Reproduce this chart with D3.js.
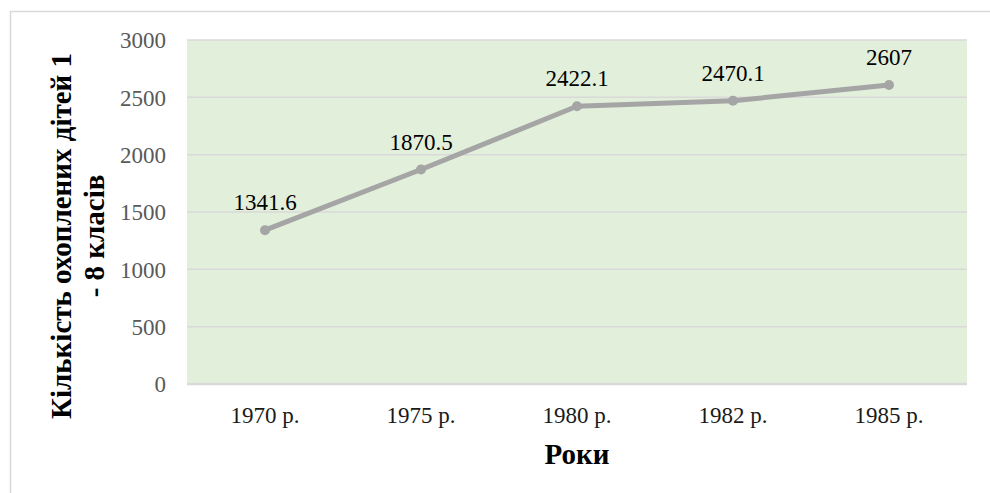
<!DOCTYPE html>
<html>
<head>
<meta charset="utf-8">
<script src="https://cdn.jsdelivr.net/npm/d3@7"></script>
<style>
  body { margin: 0; background: #fff; }
  svg { display: block; }
  svg text { font-family: "Liberation Serif", serif !important; }
</style>
</head>
<body>
<svg id="chart" width="990" height="493"></svg>
<script>
// chart data
const years = ["1970 р.", "1975 р.", "1980 р.", "1982 р.", "1985 р."];
const children = [1341.6, 1870.5, 2422.1, 2470.1, 2607];
const yTicks = [0, 500, 1000, 1500, 2000, 2500, 3000];

const svg = d3.select("#chart");

// outer frame (runs off the right and bottom edge)
svg.append("rect")
  .attr("x", 10.5).attr("y", 11.5)
  .attr("width", 1000).attr("height", 600)
  .attr("fill", "none")
  .attr("stroke", "#d9d9d9")
  .attr("stroke-width", 1.5);

const plot = { left: 187, right: 967, top: 40, bottom: 384 };

const x = d3.scaleBand()
  .domain(years)
  .range([plot.left, plot.right]);

const y = d3.scaleLinear()
  .domain([0, 3000])
  .range([plot.bottom, plot.top]);

// plot background
svg.append("rect")
  .attr("x", plot.left).attr("y", plot.top)
  .attr("width", plot.right - plot.left)
  .attr("height", plot.bottom - plot.top)
  .attr("fill", "#e2efda");

// gridlines
svg.append("g")
  .selectAll("line")
  .data(yTicks)
  .enter()
  .append("line")
  .attr("x1", plot.left).attr("x2", plot.right)
  .attr("y1", (d) => y(d)).attr("y2", (d) => y(d))
  .attr("stroke", "#d9d9d9")
  .attr("stroke-width", (d) => (d === 0 ? 2.5 : 1.5));

// y axis labels
const yAxis = d3.axisLeft(y)
  .tickValues(yTicks)
  .tickFormat(d3.format("d"))
  .tickSize(0)
  .tickPadding(0);
svg.append("g")
  .attr("transform", `translate(166,0)`)
  .call(yAxis)
  .call((g) => g.select(".domain").remove())
  .selectAll("text")
  .attr("font-size", "23px")
  .attr("fill", "#595959")
  .attr("dy", "0.34em");

// x axis labels
const xAxis = d3.axisBottom(x).tickSize(0).tickPadding(0);
svg.append("g")
  .attr("transform", `translate(0,${plot.bottom})`)
  .call(xAxis)
  .call((g) => g.select(".domain").remove())
  .selectAll("text")
  .attr("font-size", "23px")
  .attr("fill", "#1a1a1a")
  .attr("y", 39)
  .attr("dy", 0);

// the line
const line = d3.line()
  .x((d, i) => x(years[i]) + x.bandwidth() / 2)
  .y((d) => y(d));

svg.append("path")
  .datum(children)
  .attr("d", line)
  .attr("fill", "none")
  .attr("stroke", "#a5a5a5")
  .attr("stroke-width", 5)
  .attr("stroke-linejoin", "round");

svg.append("g")
  .selectAll("circle")
  .data(children)
  .enter()
  .append("circle")
  .attr("cx", (d, i) => x(years[i]) + x.bandwidth() / 2)
  .attr("cy", (d) => y(d))
  .attr("r", 5)
  .attr("fill", "#a5a5a5");

// data labels
svg.append("g")
  .selectAll("text")
  .data(children)
  .enter()
  .append("text")
  .attr("x", (d, i) => x(years[i]) + x.bandwidth() / 2)
  .attr("y", (d) => y(d) - 20)
  .attr("text-anchor", "middle")
  .attr("font-size", "23px")
  .attr("fill", "#000")
  .text((d) => d);

// axis titles
svg.append("text")
  .attr("x", (plot.left + plot.right) / 2)
  .attr("y", 464)
  .attr("text-anchor", "middle")
  .attr("font-size", "29px")
  .attr("font-weight", "bold")
  .text("Роки");

const yTitle = svg.append("text")
  .attr("transform", "translate(0,236) rotate(-90)")
  .attr("text-anchor", "middle")
  .attr("font-size", "29px")
  .attr("font-weight", "bold");
yTitle.append("tspan").attr("x", 0).attr("y", 71).text("Кількість охоплених дітей 1");
yTitle.append("tspan").attr("x", 0).attr("y", 104).text("- 8 класів");
</script>
</body>
</html>
